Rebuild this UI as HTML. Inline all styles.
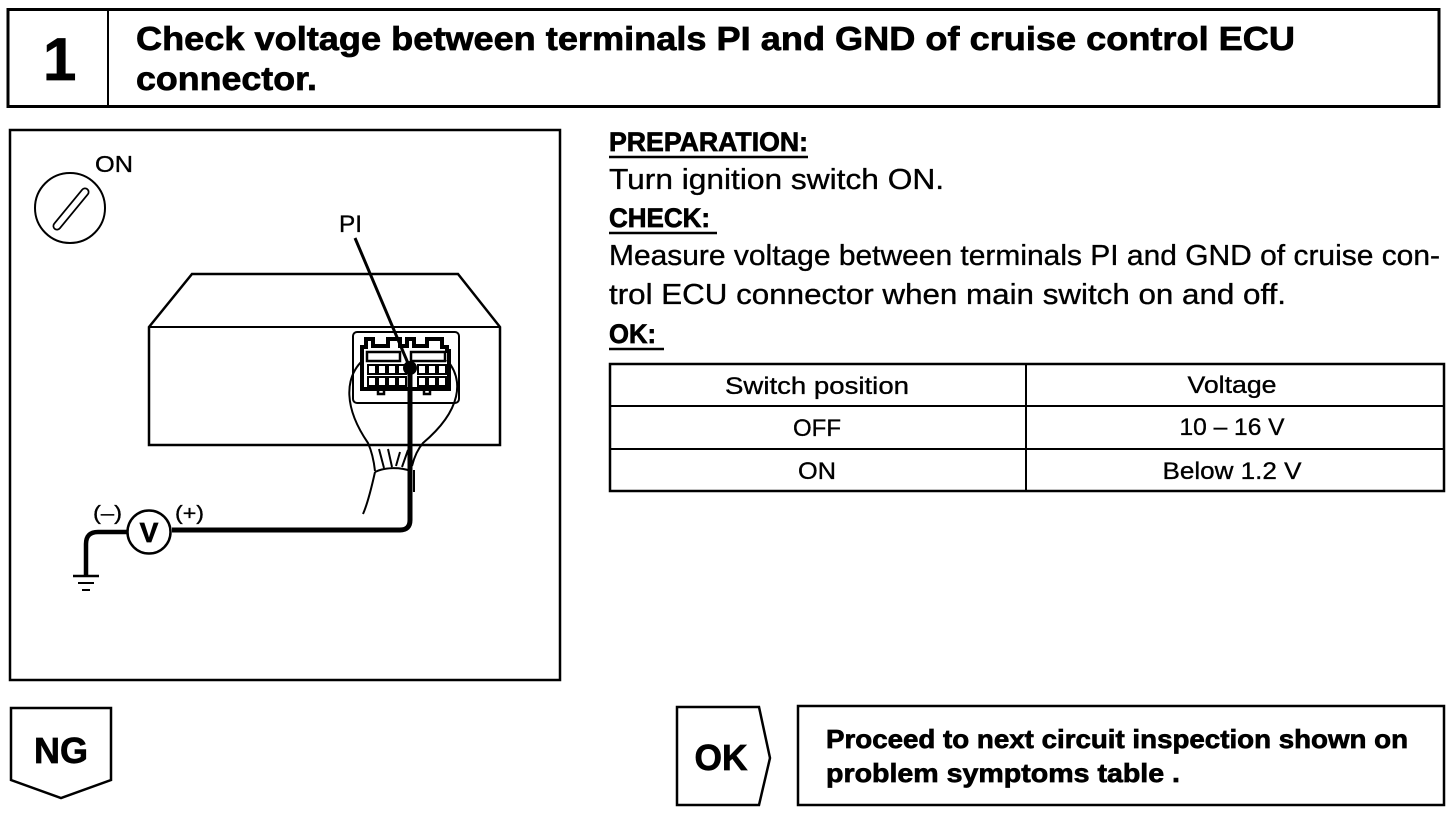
<!DOCTYPE html>
<html><head><meta charset="utf-8"><style>
html,body{margin:0;padding:0;background:#fff}
svg{display:block}
text{font-family:"Liberation Sans",sans-serif;fill:#000;stroke:#000;stroke-width:.35px}
.b{font-weight:bold;stroke-width:.7px}
</style></head><body>
<svg width="1456" height="814" viewBox="0 0 1456 814" xmlns="http://www.w3.org/2000/svg">
<rect width="1456" height="814" fill="#fff"/>
<g fill="none" stroke="#000">
<rect x="8" y="9.5" width="1431" height="97" stroke-width="3"/>
<path d="M108 10V106" stroke-width="2"/>
<rect x="10" y="130" width="550" height="550" stroke-width="2.5"/>
<circle cx="70" cy="208" r="35" stroke-width="2"/>
<path d="M57 226L85 192" stroke-width="9" stroke-linecap="round"/>
<path d="M57 226L85 192" stroke="#fff" stroke-width="5.5" stroke-linecap="round"/>
<path d="M149 327L192 274H458L500 327V445H149Z" stroke-width="2.5"/>
<path d="M149 327H500" stroke-width="2"/>
<path d="M355 238L410 368" stroke-width="3"/>
<rect x="353" y="332" width="106" height="71" rx="4" stroke-width="2"/>
<path d="M362 351V347H366V339H373V346H388V339H400V346H407V339H414V346H427V339H442V347H447V351H449V389H362Z" stroke-width="4"/>
<path d="M378 390V394H384V390M424 390V394H430V390" stroke-width="2.5"/>
<rect x="367" y="352" width="33" height="9" stroke-width="2.5"/>
<rect x="411" y="352" width="34" height="9" stroke-width="2.5"/>
<path d="M368 365h8v9h-8zM378 365h8v9h-8zM388 365h8v9h-8zM398 365h8v9h-8zM418 365h8v9h-8zM428 365h8v9h-8zM438 365h8v9h-8zM368 377h8v9h-8zM378 377h8v9h-8zM388 377h8v9h-8zM398 377h8v9h-8zM418 377h8v9h-8zM428 377h8v9h-8zM438 377h8v9h-8z" stroke-width="2"/>
<path d="M363 360C344 378 344 408 368 443C372 452 374 462 375 471M447 360C464 380 462 410 423 443C417 450 414 458 412 466" stroke-width="2"/>
<path d="M375 472C385 467 400 467 411 471M379 449L384 468M388 449L392 467M400 452L396 466M408 450L402 467M375 472C371 490 367 505 363 514M414 470V492" stroke-width="2"/>
<path d="M410 368V520Q410 530 400 530H172" stroke-width="5"/>
<circle cx="410" cy="368" r="7" fill="#000" stroke="none"/>
<circle cx="149" cy="532" r="21.5" stroke-width="2.5"/>
<path d="M127 532H98Q86 532 86 544V575" stroke-width="4.5"/>
<path d="M73 576H99" stroke-width="2.5"/><path d="M78 583H94" stroke-width="2"/><path d="M82 590H90" stroke-width="2"/>
<path d="M609 157H808M609 233H717M609 349H664" stroke-width="2.5"/>
<rect x="610" y="364" width="834" height="127" stroke-width="2.5"/>
<path d="M610 406H1444M610 449H1444M1026 364V491" stroke-width="2"/>
<path d="M11 708H111V780L61 798L11 780Z" stroke-width="2.5"/>
<path d="M677 707H759L770 758L759 805H677Z" stroke-width="2.5"/>
<rect x="798" y="706" width="646" height="99" stroke-width="2.5"/>
</g>
<text x="43" y="80" class="b" font-size="60">1</text>
<text x="136" y="50" class="b" font-size="33" textLength="1159" lengthAdjust="spacingAndGlyphs">Check voltage between terminals PI and GND of cruise control ECU</text>
<text x="136" y="90" class="b" font-size="33" textLength="181" lengthAdjust="spacingAndGlyphs">connector.</text>
<text x="95" y="172" font-size="23" textLength="38" lengthAdjust="spacingAndGlyphs">ON</text>
<text x="339" y="232" font-size="24" textLength="23" lengthAdjust="spacingAndGlyphs">PI</text>
<text x="93" y="520" font-size="20" textLength="29" lengthAdjust="spacingAndGlyphs">(–)</text>
<text x="175" y="520" font-size="20" textLength="29" lengthAdjust="spacingAndGlyphs">(+)</text>
<text x="149" y="542" class="b" font-size="28" text-anchor="middle">V</text>
<text x="609" y="151" class="b" font-size="26.5" textLength="199" lengthAdjust="spacingAndGlyphs">PREPARATION:</text>
<text x="609" y="189" font-size="28.5" textLength="335" lengthAdjust="spacingAndGlyphs">Turn ignition switch ON.</text>
<text x="609" y="227" class="b" font-size="26.5" textLength="101" lengthAdjust="spacingAndGlyphs">CHECK:</text>
<text x="609" y="265" font-size="28.5" textLength="831" lengthAdjust="spacingAndGlyphs">Measure voltage between terminals PI and GND of cruise con-</text>
<text x="609" y="304" font-size="28.5" textLength="677" lengthAdjust="spacingAndGlyphs">trol ECU connector when main switch on and off.</text>
<text x="609" y="343" class="b" font-size="26.5" textLength="47" lengthAdjust="spacingAndGlyphs">OK:</text>
<text x="817" y="394" font-size="24" text-anchor="middle" textLength="184" lengthAdjust="spacingAndGlyphs">Switch position</text>
<text x="1232" y="393" font-size="24" text-anchor="middle" textLength="89" lengthAdjust="spacingAndGlyphs">Voltage</text>
<text x="817" y="436" font-size="24" text-anchor="middle" textLength="48" lengthAdjust="spacingAndGlyphs">OFF</text>
<text x="1232" y="435" font-size="24" text-anchor="middle" textLength="105" lengthAdjust="spacingAndGlyphs">10 – 16 V</text>
<text x="817" y="479" font-size="24" text-anchor="middle" textLength="38" lengthAdjust="spacingAndGlyphs">ON</text>
<text x="1232" y="479" font-size="24" text-anchor="middle" textLength="139" lengthAdjust="spacingAndGlyphs">Below 1.2 V</text>
<text x="61" y="763" class="b" font-size="36" text-anchor="middle" textLength="54" lengthAdjust="spacingAndGlyphs">NG</text>
<text x="721" y="770" class="b" font-size="36" text-anchor="middle" textLength="53" lengthAdjust="spacingAndGlyphs">OK</text>
<text x="826" y="748" class="b" font-size="26" textLength="582" lengthAdjust="spacingAndGlyphs">Proceed to next circuit inspection shown on</text>
<text x="826" y="782" class="b" font-size="26" textLength="354" lengthAdjust="spacingAndGlyphs">problem symptoms table  .</text>
</svg>
</body></html>
